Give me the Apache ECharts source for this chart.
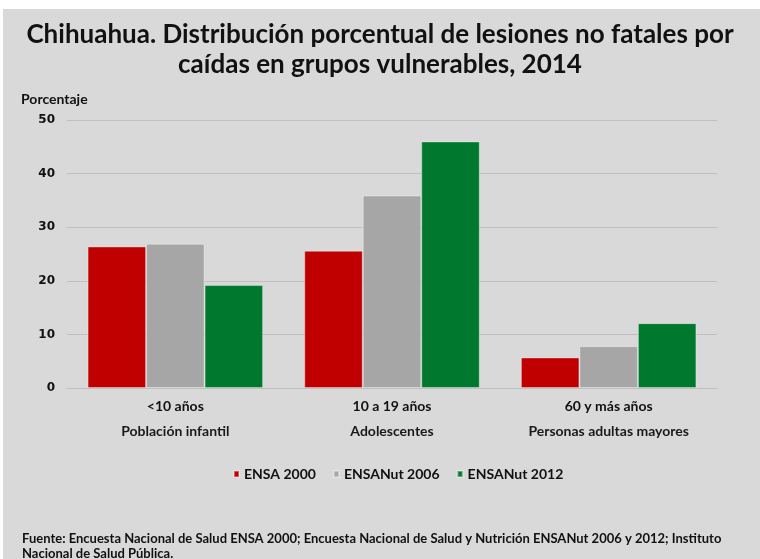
<!doctype html>
<html lang="es">
<head>
<meta charset="utf-8">
<title>Chihuahua lesiones por caidas</title>
<script src="https://cdn.jsdelivr.net/npm/echarts@6.0.0/dist/echarts.min.js"></script>
<style>
  html, body { margin: 0; padding: 0; background: #ffffff; }
  #main { width: 760px; height: 559px; }
</style>
</head>
<body>
<div id="main"></div>
<script type="text/javascript">
  // datos
  var edades = ['<10 años', '10 a 19 años', '60 y más años'];
  var grupos = ['Población infantil', 'Adolescentes', 'Personas adultas mayores'];
  var ensa2000 = [26.4, 25.6, 5.7];
  var ensanut2006 = [26.9, 35.9, 7.8];
  var ensanut2012 = [19.2, 46.0, 12.1];
  var yTicks = [0, 10, 20, 30, 40, 50];

  var fontMain = 'Lato, "Open Sans", sans-serif';

  var chart = echarts.init(document.getElementById('main'));

  function barSerie(name, data, color) {
    return {
      name: name,
      type: 'bar',
      data: data,
      barGap: 0,
      barCategoryGap: '19%',
      itemStyle: { color: color, borderColor: 'rgba(255,255,255,0.35)', borderWidth: 1 }
    };
  }

  var option = {
    backgroundColor: '#ffffff',
    animation: false,
    graphic: [
      { type: 'rect', left: 3, top: 9, z: -10, silent: true,
        shape: { width: 757, height: 550 }, style: { fill: '#d9d9d9' } },
      { type: 'text', left: 21, top: 92,
        style: { text: 'Porcentaje', font: 'bold 14px ' + fontMain, fill: '#111' } },
      { type: 'text', left: 22, top: 531,
        style: {
          text: 'Fuente: Encuesta Nacional de Salud ENSA 2000; Encuesta Nacional de Salud y Nutrición ENSANut 2006 y 2012; Instituto\nNacional de Salud Pública.',
          font: 'bold 13px ' + fontMain, lineHeight: 15, fill: '#111' } }
    ],
    title: {
      text: 'Chihuahua. Distribución porcentual de lesiones no fatales por\ncaídas en grupos vulnerables, 2014',
      left: 'center',
      top: 15,
      textStyle: { fontFamily: fontMain, fontWeight: 'bold', fontSize: 26, lineHeight: 30, color: '#111' }
    },
    legend: {
      left: 228,
      top: 462,
      itemWidth: 5,
      itemHeight: 6,
      itemGap: 17,
      icon: 'rect',
      textStyle: { fontFamily: fontMain, fontWeight: 'bold', fontSize: 14, color: '#111' },
      data: ['ENSA 2000', 'ENSANut 2006', 'ENSANut 2012']
    },
    grid: { left: 67, right: 43, top: 120, bottom: 171 },
    xAxis: {
      type: 'category',
      data: edades,
      axisLine: { show: false },
      axisTick: { show: false },
      axisLabel: {
        margin: 6,
        interval: 0,
        formatter: function (v, i) {
          return '{a|' + v + '}\n{b|' + grupos[i] + '}';
        },
        rich: {
          a: { fontFamily: fontMain, fontWeight: 'bold', fontSize: 14, lineHeight: 25, color: '#111' },
          b: { fontFamily: fontMain, fontWeight: 'bold', fontSize: 14, lineHeight: 25, color: '#1a1a1a' }
        }
      }
    },
    yAxis: {
      type: 'value',
      min: yTicks[0],
      max: yTicks[yTicks.length - 1],
      interval: 10,
      axisLine: { show: false },
      axisTick: { show: false },
      axisLabel: { margin: 12, fontFamily: '"DejaVu Sans", sans-serif', fontWeight: 'bold', fontSize: 12, color: '#111' },
      splitLine: { lineStyle: { color: '#bfbfbf', width: 1 } }
    },
    series: [
      barSerie('ENSA 2000', ensa2000, '#c00000'),
      barSerie('ENSANut 2006', ensanut2006, '#a6a6a6'),
      barSerie('ENSANut 2012', ensanut2012, '#00782d')
    ]
  };

  chart.setOption(option);
</script>
</body>
</html>
